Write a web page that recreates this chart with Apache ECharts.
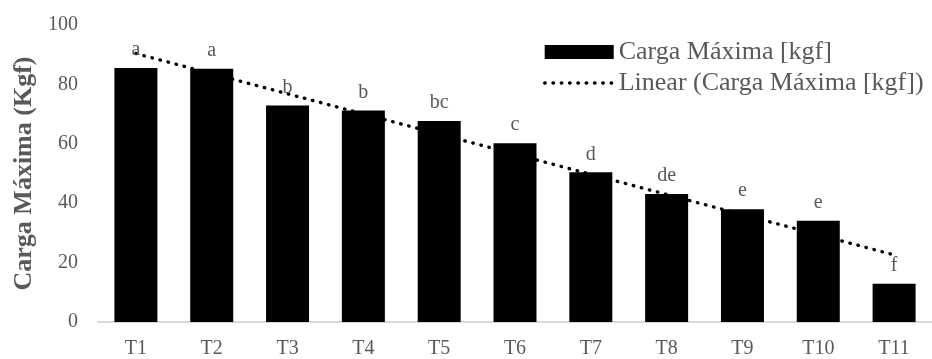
<!DOCTYPE html>
<html>
<head>
<meta charset="utf-8">
<script src="https://cdn.jsdelivr.net/npm/echarts@6/dist/echarts.min.js"></script>
<style>
html,body{margin:0;padding:0;background:#fff;}
#chart{width:932px;height:359px;}
</style>
</head>
<body>
<div id="chart"></div>
<script>
var categories = ['T1','T2','T3','T4','T5','T6','T7','T8','T9','T10','T11'];
var cargaMaxima = [85.5, 85.3, 72.9, 71.2, 67.7, 60.2, 50.4, 43.1, 38.0, 34.1, 12.9];
var letters = ['a','a','b','b','bc','c','d','de','e','e','f'];
var trendEnds = [90.4, 22.6];
var yTicks = [0, 20, 40, 60, 80, 100];

var FONT = '"Liberation Serif", "Times New Roman", serif';
var GRAY = '#595959';

var chart = echarts.init(document.getElementById('chart'), null, {renderer: 'canvas'});
var barData = cargaMaxima.map(function (v, i) {
  return {value: v, label: {formatter: letters[i]}};
});
var trendData = [[categories[0], trendEnds[0]], [categories[categories.length - 1], trendEnds[1]]];
var dotStyle = {color: '#000', width: 3.4, type: [0.5, 7.8], cap: 'round'};

var option = {
  animation: false,
  backgroundColor: '#fff',
  grid: {left: 98, top: 25, width: 845, height: 299, containLabel: false},
  legend: {
    orient: 'vertical',
    left: 538,
    top: 34,
    itemWidth: 69,
    itemHeight: 14,
    itemGap: 5,
    textStyle: {fontFamily: FONT, fontSize: 26, color: GRAY},
    data: [
      {name: 'Carga Máxima [kgf]', icon: 'rect'},
      {name: 'Linear (Carga Máxima [kgf])', itemStyle: {opacity: 0}, lineStyle: dotStyle}
    ]
  },
  xAxis: {
    type: 'category',
    data: categories,
    axisTick: {show: false},
    axisLine: {lineStyle: {color: '#d9d9d9', width: 2}},
    axisLabel: {fontFamily: FONT, fontSize: 20, color: GRAY, margin: 17}
  },
  yAxis: {
    type: 'value',
    min: yTicks[0],
    max: yTicks[yTicks.length - 1],
    interval: yTicks[1] - yTicks[0],
    splitLine: {show: false},
    axisLine: {show: false},
    axisTick: {show: false},
    axisLabel: {fontFamily: FONT, fontSize: 20, color: GRAY, margin: 20},
    name: 'Carga Máxima (Kgf)',
    nameLocation: 'middle',
    nameGap: 58,
    nameTextStyle: {fontFamily: FONT, fontSize: 26, fontWeight: 'bold', color: GRAY}
  },
  series: [
    {
      name: 'Linear (Carga Máxima [kgf])',
      type: 'line',
      data: trendData,
      symbol: 'none',
      z: 1,
      itemStyle: {color: '#000'},
      lineStyle: dotStyle
    },
    {
      name: 'Carga Máxima [kgf]',
      type: 'bar',
      data: barData,
      barWidth: 43,
      z: 2,
      itemStyle: {color: '#000'},
      label: {show: true, position: 'top', distance: 8, fontFamily: FONT, fontSize: 20, color: GRAY}
    }
  ]
};
chart.setOption(option);
</script>
</body>
</html>
